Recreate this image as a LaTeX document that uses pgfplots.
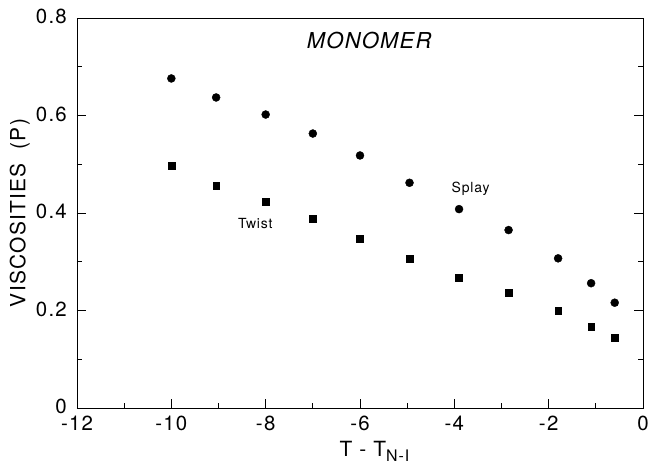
\documentclass[border=0pt]{standalone}
\usepackage{fontspec}
\setmainfont{TeX Gyre Heros}
\usepackage{pgfplots}
\pgfplotsset{compat=1.18}

% splay (circles) and twist (squares) viscosities
\pgfplotstableread{
x     splay
-10   0.676
-9.05 0.637
-8    0.602
-7    0.563
-6    0.518
-4.95 0.462
-3.9  0.408
-2.85 0.365
-1.8  0.307
-1.1  0.256
-0.6  0.216
}\splaydata
\pgfplotstableread{
x     twist
-10   0.497
-9.05 0.456
-8    0.423
-7    0.388
-6    0.348
-4.95 0.307
-3.9  0.268
-2.85 0.237
-1.8  0.200
-1.1  0.167
-0.6  0.144
}\twistdata

\newcommand{\sz}[1]{\fontsize{#1}{#1}\selectfont\addfontfeature{LetterSpace=6}}

\begin{document}
\begin{tikzpicture}
\begin{axis}[
    scale only axis,
    width=566bp,
    height=390bp,
    xmin=-12, xmax=0,
    ymin=0, ymax=0.8,
    xtick={-12,-10,...,0},
    xticklabels={-12,-10,-8,-6,-4,-2,0},
    ytick={0,0.2,0.4,0.6,0.8},
    yticklabels={0,0.2,0.4,0.6,0.8},
    minor x tick num=1,
    minor y tick num=1,
    xtick pos=bottom,
    ytick pos=both,
    tick align=inside,
    major tick length=9bp,
    minor tick length=5bp,
    every tick/.style={black, line width=0.8pt},
    axis line style={line width=0.9pt},
    tick label style={font=\sz{20.5}, inner sep=0pt},
    xticklabel style={anchor=base, yshift=-22bp},
    yticklabel style={anchor=east, xshift=-10bp, yshift=1.5bp},
    xlabel={T - T\raisebox{-0.45ex}{\sz{16}N-I}},
    ylabel={VISCOSITIES\ \ (P)},
    label style={font=\sz{21}},
    xlabel style={at={(axis description cs:0.4576,-0.1256)}, anchor=base west},
    ylabel style={at={(axis description cs:-0.101,0.5)}, anchor=center, rotate=0},
    clip=false,
]
\addplot[only marks, mark=*, mark size=4bp, black] table[x=x, y=splay] {\splaydata};
\addplot[only marks, mark=square*, mark size=3.4bp, black] table[x=x, y=twist] {\twistdata};
\node[font=\sz{22}\itshape, anchor=base west, inner sep=0pt] at (axis cs:-7.13,0.738) {MONOMER};
\node[font=\sz{14}, anchor=base west, inner sep=0pt] at (axis cs:-4.06,0.443) {Splay};
\node[font=\sz{14}, anchor=base west, inner sep=0pt] at (axis cs:-8.59,0.369) {Twist};
\end{axis}
\pgfresetboundingbox
\path (current axis.south west) ++(-77bp,-56bp) rectangle ++(649bp,464bp);
\end{tikzpicture}
\end{document}
